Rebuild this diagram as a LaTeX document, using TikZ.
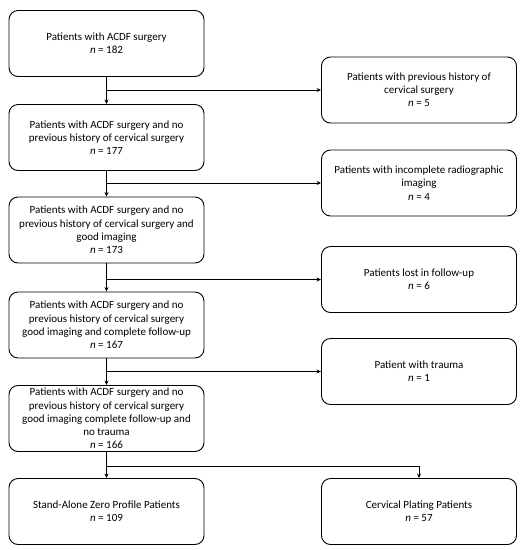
\documentclass[tikz,border=0pt]{standalone}
\usepackage{fontspec}
\setmainfont{Carlito}
\usetikzlibrary{arrows.meta}
\begin{document}
\begin{tikzpicture}[x=1pt,y=-1pt,
  box/.style={draw=black,line width=0.9pt,rounded corners=9pt,minimum width=195pt,minimum height=66pt,align=center,inner sep=2pt,font=\fontsize{11}{13.2}\selectfont},
  mainline/.style={line width=1.8pt},
  branch/.style={line width=0.9pt},
  tip/.style={-{Stealth[length=4.5pt,width=4pt]}}]
\useasboundingbox (0,0) rectangle (526,550);
\node[box] (b1) at (106.5,43.5) {Patients with ACDF surgery\\\textit{n} = 182};
\node[box] (b2) at (106.5,137.5) {Patients with ACDF surgery and no\\previous history of cervical surgery\\\textit{n} = 177};
\node[box] (b3) at (106.5,230) {Patients with ACDF surgery and no\\previous history of cervical surgery and\\good imaging\\\textit{n} = 173};
\node[box] (b4) at (106.5,325) {Patients with ACDF surgery and no\\previous history of cervical surgery\\good imaging and complete follow-up\\\textit{n} = 167};
\node[box] (b5) at (106.5,418.5) {Patients with ACDF surgery and no\\previous history of cervical surgery\\good imaging complete follow-up and\\no trauma\\\textit{n} = 166};
\node[box] (b6) at (106.5,511.5) {Stand-Alone Zero Profile Patients\\\textit{n} = 109};
\node[box] (r1) at (419,90) {Patients with previous history of\\cervical surgery\\\textit{n} = 5};
\node[box] (r2) at (419,183) {Patients with incomplete radiographic\\imaging\\\textit{n} = 4};
\node[box] (r3) at (419,279.5) {Patients lost in follow-up\\\textit{n} = 6};
\node[box] (r4) at (419,371.5) {Patient with trauma\\\textit{n} = 1};
\node[box] (r6) at (419,511.5) {Cervical Plating Patients\\\textit{n} = 57};
\coordinate (j1) at (106.5,90);
\coordinate (j2) at (106.5,183);
\coordinate (j3) at (106.5,279.5);
\coordinate (j4) at (106.5,371.5);
\coordinate (j5) at (106.5,466);
\coordinate (j6) at (419,466);
\draw[mainline,tip] (b1.south) -- (b2.north);
\draw[mainline,tip] (b2.south) -- (b3.north);
\draw[mainline,tip] (b3.south) -- (b4.north);
\draw[mainline,tip] (b4.south) -- (b5.north);
\draw[mainline,tip] (b5.south) -- (b6.north);
\draw[branch,tip] (j1) -- (r1.west);
\draw[branch,tip] (j2) -- (r2.west);
\draw[branch,tip] (j3) -- (r3.west);
\draw[branch,tip] (j4) -- (r4.west);
\draw[branch,tip] (j5) -- (j6) -- (r6.north);
\end{tikzpicture}
\end{document}
